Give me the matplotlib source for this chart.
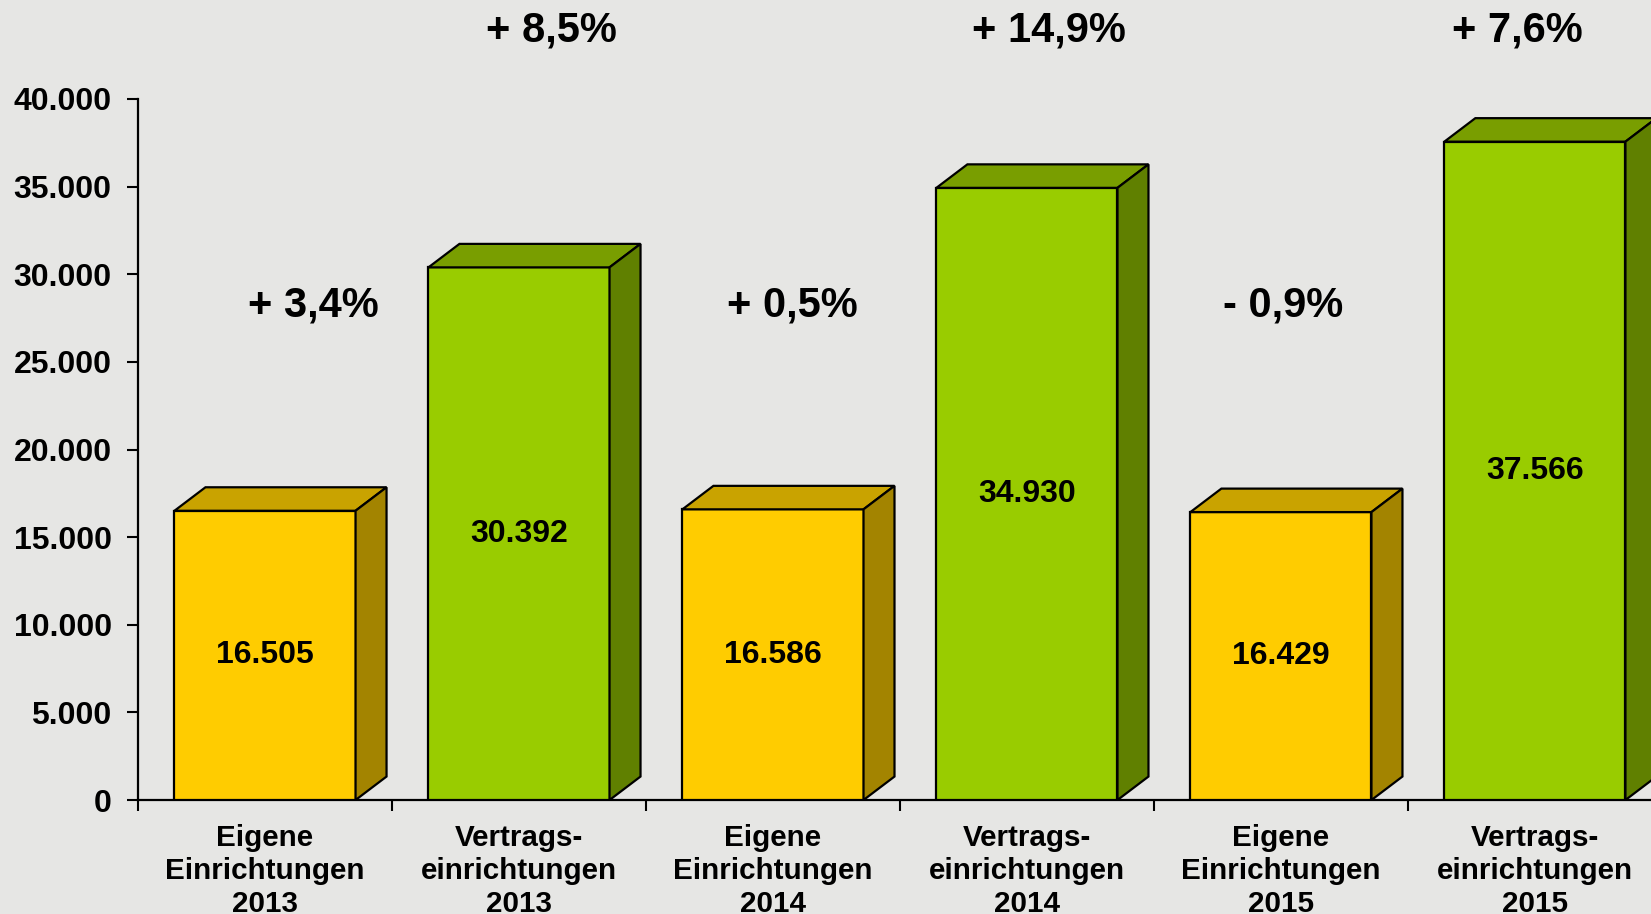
import matplotlib
matplotlib.use('Agg')
from matplotlib import pyplot as plt
from matplotlib.patches import Polygon
from matplotlib.ticker import FuncFormatter

plt.rcParams['font.family'] = ['Liberation Sans', 'DejaVu Sans']
plt.rcParams['font.weight'] = 'bold'

categories = ['Eigene\nEinrichtungen\n2013', 'Vertrags-\neinrichtungen\n2013',
              'Eigene\nEinrichtungen\n2014', 'Vertrags-\neinrichtungen\n2014',
              'Eigene\nEinrichtungen\n2015', 'Vertrags-\neinrichtungen\n2015']
values = [16505, 30392, 16586, 34930, 16429, 37566]
value_labels = ['16.505', '30.392', '16.586', '34.930', '16.429', '37.566']
changes = ['+ 3,4%', '+ 8,5%', '+ 0,5%', '+ 14,9%', '- 0,9%', '+ 7,6%']
change_x = [0.19, 1.126, 2.077, 3.085, 4.01, 4.93]
change_y = [28220, 43880, 28220, 43880, 28220, 43880]

yellow = ('#FFCC00', '#C9A300', '#A38400')
green = ('#99CC00', '#799E00', '#608000')

fig = plt.figure(facecolor='#e6e6e4', figsize=(16.51, 9.14), dpi=100)
ax = fig.add_axes([0.0836, 0.1247, 0.923, 0.767])
ax.set_facecolor('none')

width = 0.713
dx = 0.122
dy = 1340

for i, v in enumerate(values):
    front, top, side = yellow if i % 2 == 0 else green
    x0 = i - width / 2
    x1 = i + width / 2
    ax.bar(i, v, width=width, color=front, edgecolor='black', linewidth=1.6, zorder=3)
    ax.add_patch(Polygon([(x0, v), (x0 + dx, v + dy), (x1 + dx, v + dy), (x1, v)],
                         closed=True, facecolor=top, edgecolor='black', linewidth=1.6, zorder=3))
    ax.add_patch(Polygon([(x1, 0), (x1 + dx, dy), (x1 + dx, v + dy), (x1, v)],
                         closed=True, facecolor=side, edgecolor='black', linewidth=1.6, zorder=3))
    ax.text(i, v / 2, value_labels[i], ha='center', va='center', fontsize=23,
            fontweight='bold', zorder=4)
    ax.text(change_x[i], change_y[i], changes[i], ha='center', va='center', fontsize=30,
            fontweight='bold', clip_on=False)

ax.set_xlim(-0.5, 5.5)
ax.set_ylim(0, 40000)
ax.set_yticks(range(0, 40001, 5000))
ax.yaxis.set_major_formatter(FuncFormatter(lambda y, p: f'{int(y):,}'.replace(',', '.')))
ax.set_xticks(range(len(categories)))
ax.set_xticklabels(categories, fontsize=21.3, fontweight='bold', linespacing=1.24)
ax.set_xticks([i - 0.5 for i in range(len(categories) + 1)], minor=True)
ax.tick_params(axis='x', which='major', length=0, pad=17)
ax.tick_params(axis='x', which='minor', length=8, width=1.5, direction='out')
ax.tick_params(axis='y', length=8, width=1.5, direction='out', labelsize=23, pad=11)
for lab in ax.get_yticklabels():
    lab.set_fontweight('bold')

for s in ['top', 'right']:
    ax.spines[s].set_visible(False)
for s in ['left', 'bottom']:
    ax.spines[s].set_linewidth(1.6)

fig.savefig('out.png', dpi=100, facecolor=fig.get_facecolor())
